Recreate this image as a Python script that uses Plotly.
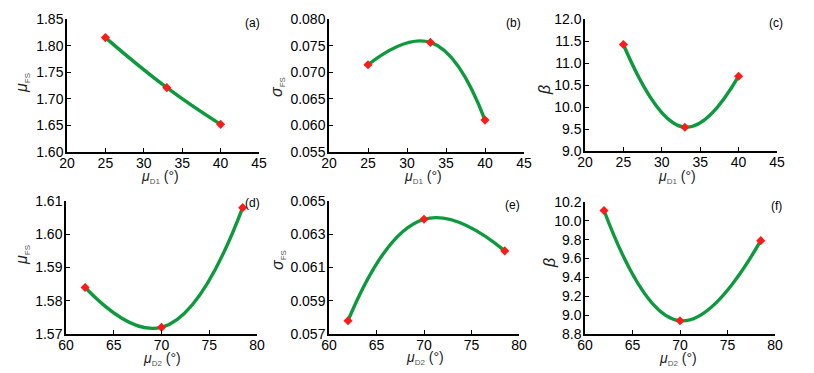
import plotly.graph_objects as go

# data
mu_d1 = [25, 33, 40]
mu_d2 = [62, 70, 78.5]

mu_fs_d1 = [1.815, 1.721, 1.652]
sigma_fs_d1 = [0.0714, 0.0756, 0.0610]
beta_d1 = [11.42, 9.54, 10.70]

mu_fs_d2 = [1.584, 1.572, 1.608]
sigma_fs_d2 = [0.0578, 0.0639, 0.0620]
beta_d2 = [10.11, 8.94, 9.79]

panel_labels = ["(a)", "(b)", "(c)", "(d)", "(e)", "(f)"]

W, H = 814, 373
OFF = 8  # page body margin in the browser
lineColor = '#0c9a3c'
markerColor = '#ff1a1a'
font = "Liberation Sans, Arial, sans-serif"

sub = "<span style='font-size:8px;color:#555'>{}</span>"
XT1 = "<i>μ</i><sub>" + sub.format("D1") + "</sub> (°)"
XT2 = "<i>μ</i><sub>" + sub.format("D2") + "</sub> (°)"
YT_MU = "<i>μ</i><sub>" + sub.format("FS") + "</sub>"
YT_SIG = "<i>σ</i><sub>" + sub.format("FS") + "</sub>"
YT_BETA = "<i>β</i>"


def px_x(p):
    return (p - OFF) / W


def px_y(p):
    return 1 - (p - OFF) / H


panels = [
    dict(x=mu_d1, y=mu_fs_d1, xd=(67, 259), yd=(19, 152), xr=[20, 45], xdt=5,
         yr=[1.60, 1.85], ydt=0.05, t0=0, fmt='.2f', xt=XT1, yt=YT_MU,
         lab=(262, 23), xtp=(160, 177), ytp=(22, 83)),
    dict(x=mu_d1, y=sigma_fs_d1, xd=(329, 524), yd=(19, 152), xr=[20, 45], xdt=5,
         yr=[0.055, 0.080], ydt=0.005, t0=0, fmt='.3f', xt=XT1, yt=YT_SIG,
         lab=(523, 23), xtp=(423, 177), ytp=(277, 87)),
    dict(x=mu_d1, y=beta_d1, xd=(585, 777), yd=(19, 151), xr=[20, 45], xdt=5,
         yr=[9.0, 12.0], ydt=0.5, t0=0, fmt='.1f', xt=XT1, yt=YT_BETA,
         lab=(785, 23), xtp=(677, 177), ytp=(544, 90)),
    dict(x=mu_d2, y=mu_fs_d2, xd=(66, 257), yd=(201, 334), xr=[60, 80], xdt=5,
         yr=[1.57, 1.61], ydt=0.01, t0=0, fmt='.2f', xt=XT2, yt=YT_MU,
         lab=(262, 203), xtp=(162, 359), ytp=(22, 255)),
    dict(x=mu_d2, y=sigma_fs_d2, xd=(329, 519), yd=(201, 334), xr=[60, 80], xdt=5,
         yr=[0.057, 0.065], ydt=0.002, t0=0.057, fmt='.3f', xt=XT2, yt=YT_SIG,
         lab=(522, 205), xtp=(425, 358), ytp=(278, 260)),
    dict(x=mu_d2, y=beta_d2, xd=(585, 775), yd=(202, 334), xr=[60, 80], xdt=5,
         yr=[8.8, 10.2], ydt=0.2, t0=0, fmt='.1f', xt=XT2, yt=YT_BETA,
         lab=(784, 206), xtp=(678, 359), ytp=(549, 263)),
]

fig = go.Figure()
layout = {}
annotations = []

for i, p in enumerate(panels):
    n = '' if i == 0 else str(i + 1)
    fig.add_trace(go.Scatter(
        x=p['x'], y=p['y'], xaxis='x' + n, yaxis='y' + n,
        mode='lines+markers',
        line=dict(color=lineColor, width=3.4, shape='spline', smoothing=1.3),
        marker=dict(symbol='diamond', size=7, color=markerColor),
        showlegend=False,
    ))
    axis_common = dict(
        showgrid=False, zeroline=False, showline=True, linecolor='black',
        linewidth=1.5, ticks='inside', ticklen=4, tickcolor='black',
        tickfont=dict(family=font, size=14, color='black'),
        automargin=False,
    )
    layout['xaxis' + n] = dict(
        axis_common, domain=[px_x(p['xd'][0]), px_x(p['xd'][1])],
        range=p['xr'], dtick=p['xdt'], tick0=0, anchor='y' + n,
        ticklabelstandoff=-3,
    )
    layout['yaxis' + n] = dict(
        axis_common, domain=[px_y(p['yd'][1]), px_y(p['yd'][0])],
        range=p['yr'], dtick=p['ydt'], tick0=p['t0'], tickformat=p['fmt'],
        anchor='x' + n, ticklabelstandoff=-1,
    )
    # panel letter
    annotations.append(dict(
        text=panel_labels[i], xref='paper', yref='paper',
        x=px_x(p['lab'][0]), y=px_y(p['lab'][1]),
        xanchor='right', yanchor='middle', showarrow=False,
        font=dict(family=font, size=12, color='black'),
    ))
    # axis titles
    annotations.append(dict(
        text=p['xt'], xref='paper', yref='paper',
        x=px_x(p['xtp'][0]), y=px_y(p['xtp'][1]),
        xanchor='center', yanchor='middle', showarrow=False,
        font=dict(family=font, size=14, color='#222'),
    ))
    annotations.append(dict(
        text=p['yt'], xref='paper', yref='paper',
        x=px_x(p['ytp'][0]), y=px_y(p['ytp'][1]), textangle=-90,
        xanchor='center', yanchor='middle', showarrow=False,
        font=dict(family=font, size=16, color='#222'),
    ))

fig.update_layout(
    **layout,
    annotations=annotations,
    template='none',
    width=W, height=H,
    margin=dict(l=0, r=0, t=0, b=0, pad=0),
    paper_bgcolor='white', plot_bgcolor='white',
    font=dict(family=font, color='black'),
)

fig.write_html("out.html")
